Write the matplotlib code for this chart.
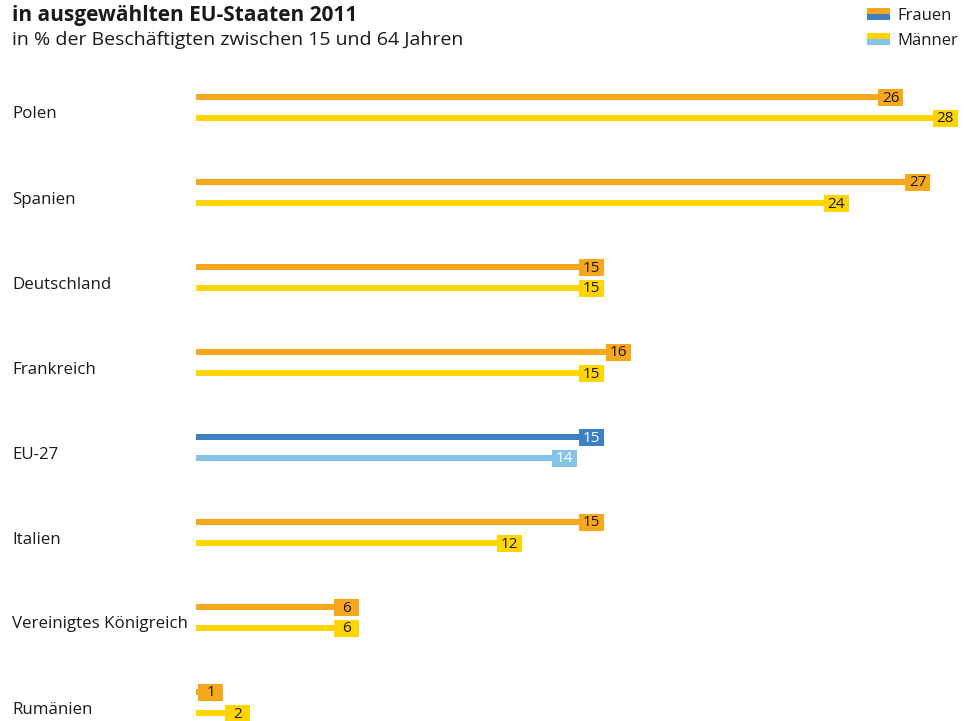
import matplotlib.pyplot as plt
from matplotlib.patches import Rectangle

# data
laender = ['Polen', 'Spanien', 'Deutschland', 'Frankreich', 'EU-27', 'Italien',
           'Vereinigtes Königreich', 'Rumänien']
frauen = [26, 27, 15, 16, 15, 15, 6, 1]
maenner = [28, 24, 15, 15, 14, 12, 6, 2]

orange = '#F6A71B'
gelb = '#FFD400'
blau = '#3D80C3'
hellblau = '#86C3EA'

plt.rcParams['font.family'] = ['Open Sans', 'DejaVu Sans']

fig = plt.figure(figsize=(9.73, 7.21), dpi=100)
W, H = 973, 721
x0, x1 = 196, 957.6
ax = fig.add_axes([x0 / W, 0, (x1 - x0) / W, 1])
ax.set_xlim(0, 28)
row0, step = 107.5, 85
ax.set_ylim((H - row0) / step, -row0 / step)
ax.axis('off')

px_x = 28 / (x1 - x0)
px_y = 1 / step
box_w = 25 * px_x
box_h = 17 * px_y
bar_h = 6 * px_y
off = 10.5 * px_y

for i, land in enumerate(laender):
    if land == 'EU-27':
        cf, cm = blau, hellblau
        tc = 'white'
    else:
        cf, cm = orange, gelb
        tc = '#1a1a1a'
    for val, y, c in [(frauen[i], i - off, cf), (maenner[i], i + off, cm)]:
        ax.barh(y, val, height=bar_h, color=c, edgecolor='none')
        ax.add_patch(Rectangle((val - box_w, y - box_h / 2), box_w, box_h,
                               facecolor=c, edgecolor='none'))
        ax.text(val - box_w / 2, y + 1 * px_y, str(val), ha='center', va='center',
                fontsize=11, color=tc)
    fig.text(12 / W, 1 - (row0 + step * i + 7) / H, land, ha='left', va='center',
             fontsize=12.2, color='#1a1a1a')

# titel
fig.text(12 / W, 1 - 15 / H, 'in ausgewählten EU-Staaten 2011', ha='left',
         va='center', fontsize=15, fontweight='bold', color='#1a1a1a')
fig.text(12 / W, 1 - 40 / H, 'in % der Beschäftigten zwischen 15 und 64 Jahren',
         ha='left', va='center', fontsize=14, color='#1a1a1a')

# legende
for ytop, c1, c2, lab in [(8, orange, blau, 'Frauen'), (33, gelb, hellblau, 'Männer')]:
    fig.patches.append(Rectangle((867 / W, 1 - (ytop + 6) / H), 23 / W, 6 / H,
                                 facecolor=c1, edgecolor='none', transform=fig.transFigure))
    fig.patches.append(Rectangle((867 / W, 1 - (ytop + 12) / H), 23 / W, 6 / H,
                                 facecolor=c2, edgecolor='none', transform=fig.transFigure))
    fig.text(897 / W, 1 - (ytop + 8) / H, lab, ha='left', va='center',
             fontsize=12, color='#1a1a1a')

fig.savefig('out.png', dpi=100)
